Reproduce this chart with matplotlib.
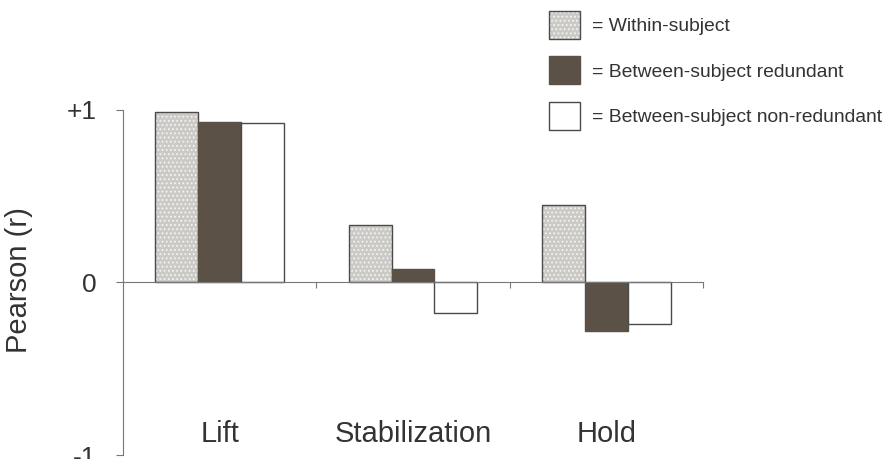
import numpy as np
import matplotlib.pyplot as plt
from matplotlib.patches import Patch
from matplotlib.legend_handler import HandlerTuple

plt.rcParams['font.family'] = ['Liberation Sans', 'DejaVu Sans']
plt.rcParams['hatch.linewidth'] = 0.8

# data
phases = ['Lift', 'Stabilization', 'Hold']
within = [0.99, 0.33, 0.45]
between_red = [0.93, 0.08, -0.28]
between_nonred = [0.925, -0.18, -0.24]
series_names = ['= Within-subject', '= Between-subject redundant',
                '= Between-subject non-redundant']

light = '#cbcac6'
dark = '#5b5147'
edge = '#4a4a4a'
txt = '#333333'

fig = plt.figure(figsize=(8.91, 4.59), dpi=100)
ax = fig.add_axes([0.138, 0.0087, 0.651, 0.752])

x = np.arange(len(phases))
w = 0.222

# stippled fill (white dots) then the outline on top
ax.bar(x - w, within, w, color=light, edgecolor='#f4f4f2', lw=0, hatch='....')
ax.bar(x - w, within, w, fill=False, edgecolor=edge, lw=1.0)
ax.bar(x, between_red, w, color=dark, edgecolor=dark, lw=1.0)
ax.bar(x + w, between_nonred, w, color='white', edgecolor=edge, lw=1.0)

ax.set_xlim(-0.5, 2.5)
ax.set_ylim(-1, 1)

for s in ['top', 'right']:
  ax.spines[s].set_visible(False)
ax.spines['bottom'].set_position(('data', 0))
for s in ['bottom', 'left']:
  ax.spines[s].set_color('#777777')
  ax.spines[s].set_linewidth(0.8)

ax.set_xticks([0.5, 1.5, 2.5])
ax.set_xticklabels([])
ax.tick_params(axis='x', direction='out', length=4, color='#777777')

ax.set_yticks([-1, 0, 1])
ax.set_yticklabels(['-1', '0', '+1'], fontsize=19, color=txt)
ax.tick_params(axis='y', direction='out', length=5, pad=14, color='#777777')

ax.set_ylabel('Pearson (r)', fontsize=21, color=txt)
ax.yaxis.set_label_coords(-0.155, 0.507)

for i, name in enumerate(phases):
  ax.text(x[i], -0.88, name, ha='center', va='center', fontsize=21,
          color=txt)

handles = [(Patch(facecolor=light, edgecolor='#f4f4f2', lw=0, hatch='....'),
            Patch(fill=False, edgecolor=edge, lw=1.0)),
           Patch(facecolor=dark, edgecolor=dark),
           Patch(facecolor='white', edgecolor=edge)]
fig.legend(handles, series_names, loc='upper left',
           bbox_to_anchor=(0.616, 0.976), frameon=False, fontsize=13.9,
           handlelength=1.6, handleheight=1.85, labelspacing=0.9,
           handletextpad=0.65, borderaxespad=0, borderpad=0,
           labelcolor=txt,
           handler_map={tuple: HandlerTuple(ndivide=1, pad=0)})

fig.savefig('out.png', dpi=100)
